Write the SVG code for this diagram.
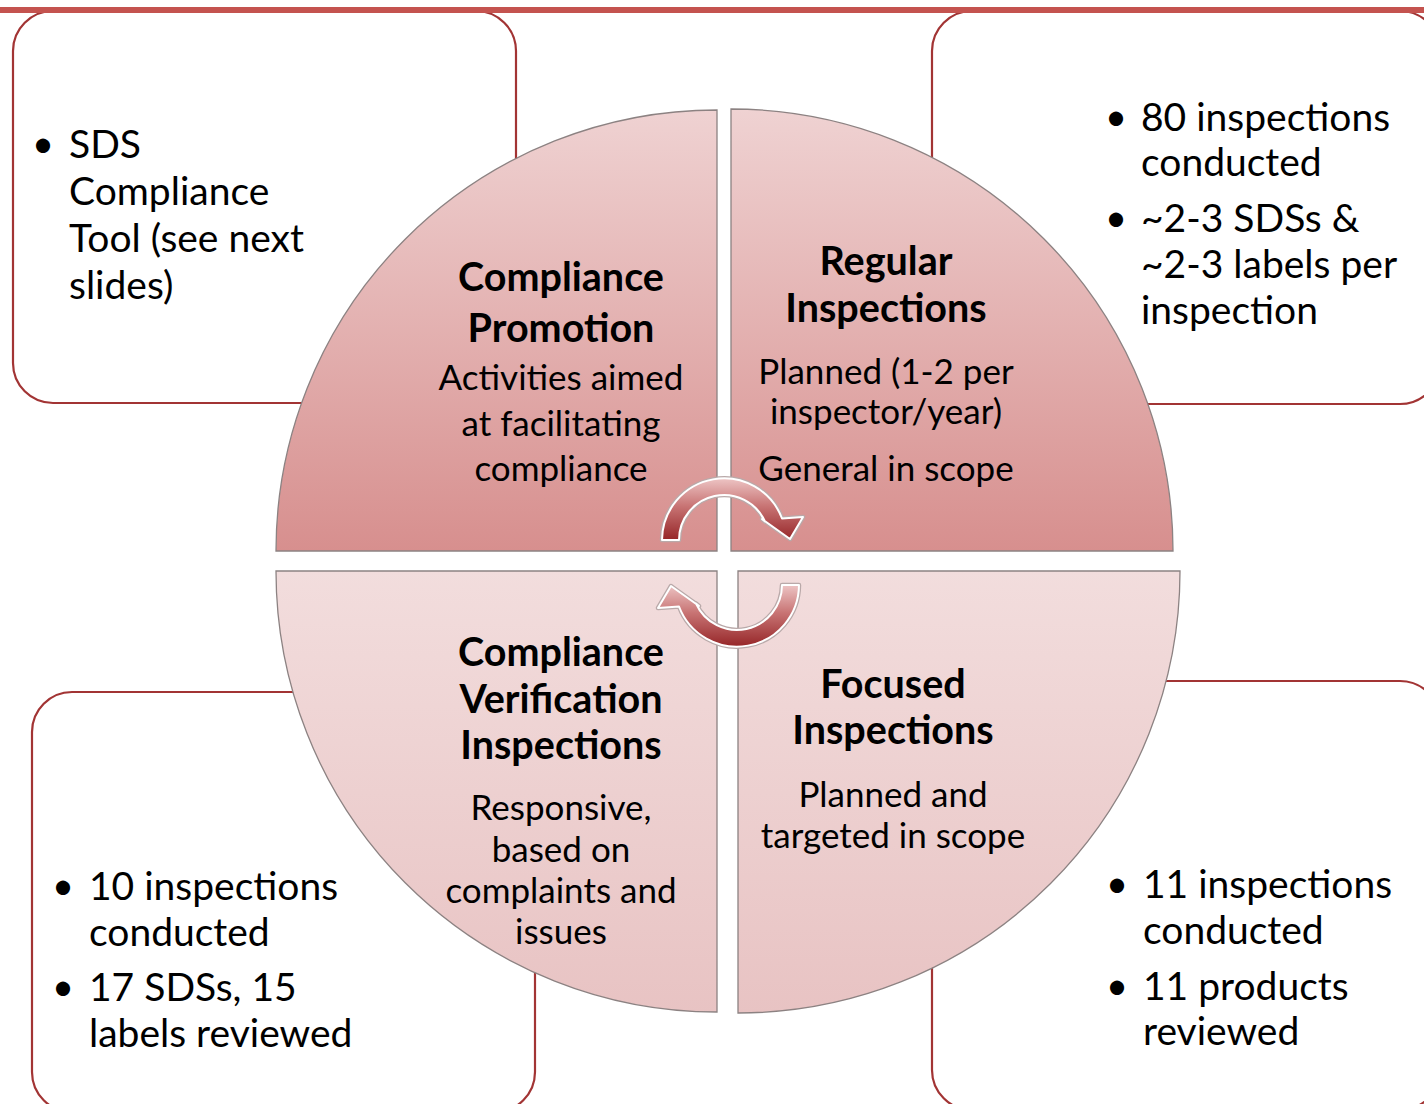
<svg xmlns="http://www.w3.org/2000/svg" width="1424" height="1104" viewBox="0 0 1424 1104">
  <style>
    .box { fill: #ffffff; stroke: #a23434; stroke-width: 2.2; }
    .quad { stroke: #8c8282; stroke-width: 1.3; }
    .txt { font-family: Lato, "Open Sans", "Liberation Sans", sans-serif; fill: #000000; }
    .h { font-size: 39.5px; font-weight: 700; text-anchor: middle; }
    .t { font-size: 35px; text-anchor: middle; }
    .b { font-size: 39px; }
    .dot { font-size: 38px; text-anchor: middle; }
    .arrow-halo { fill: none; stroke: #b9a9a9; stroke-width: 4.5; stroke-linejoin: round; }
    .arrow { fill: url(#arrowFill); stroke: #ffffff; stroke-width: 2; stroke-linejoin: round; }
  </style>
  <defs>
    <linearGradient id="topFill" gradientUnits="userSpaceOnUse" x1="0" y1="110" x2="0" y2="551">
      <stop offset="0" stop-color="#efd2d2"/>
      <stop offset="1" stop-color="#d78f8e"/>
    </linearGradient>
    <linearGradient id="bottomFill" gradientUnits="userSpaceOnUse" x1="0" y1="571" x2="0" y2="1013">
      <stop offset="0" stop-color="#f2dddd"/>
      <stop offset="1" stop-color="#e8c3c3"/>
    </linearGradient>
    <linearGradient id="arrowFill" x1="0" y1="0" x2="0" y2="1">
      <stop offset="0" stop-color="#edc4c4"/>
      <stop offset="0.45" stop-color="#c87474"/>
      <stop offset="1" stop-color="#962628"/>
    </linearGradient>
    <!-- curved arrow running clockwise over the top -->
    <path id="arcArrowTop" d="M -62 0 A 62 62 0 0 1 58 -21.5 L 79 -23 L 66 -1 L 38 -21 L 41 -18.5 A 45 45 0 0 0 -45 0 Z"/>
    <!-- same arrow turned half a turn -->
    <path id="arcArrowBottom" d="M 62 0 A 62 62 0 0 1 -58 21.5 L -79 23 L -66 1 L -38 21 L -41 18.5 A 45 45 0 0 0 45 0 Z"/>
  </defs>

  <rect width="1424" height="1104" fill="#ffffff"/>

  <!-- callout boxes -->
  <g id="box-promotion-notes">
    <rect class="box" x="13" y="11" width="503" height="392" rx="40"/>
  </g>
  <g id="box-regular-notes">
    <rect class="box" x="932" y="11" width="508" height="393" rx="40"/>
  </g>
  <g id="box-verification-notes">
    <rect class="box" x="32" y="692" width="503" height="420" rx="40"/>
  </g>
  <g id="box-focused-notes">
    <rect class="box" x="932" y="681" width="508" height="429" rx="40"/>
  </g>

  <!-- header rule -->
  <rect x="0" y="7" width="1424" height="6" fill="#c4534f"/>

  <!-- quadrants -->
  <g id="quad-promotion">
    <path class="quad" fill="url(#topFill)" d="M717 551 H276 A441 441 0 0 1 717 110 Z"/>
  </g>
  <g id="quad-regular">
    <path class="quad" fill="url(#topFill)" d="M731 551 V109 A442 442 0 0 1 1173 551 Z"/>
  </g>
  <g id="quad-verification">
    <path class="quad" fill="url(#bottomFill)" d="M717 571 V1012 A441 441 0 0 1 276 571 Z"/>
  </g>
  <g id="quad-focused">
    <path class="quad" fill="url(#bottomFill)" d="M738 571 H1180 A442 442 0 0 1 738 1013 Z"/>
  </g>

  <!-- cycle arrows -->
  <g id="connectors">
    <g transform="translate(724 540)">
      <use href="#arcArrowTop" class="arrow-halo"/>
      <use href="#arcArrowTop" class="arrow"/>
    </g>
    <g transform="translate(737 585)">
      <use href="#arcArrowBottom" class="arrow-halo"/>
      <use href="#arcArrowBottom" class="arrow"/>
    </g>
  </g>

  <!-- quadrant labels -->
  <g id="label-promotion" class="txt">
    <text class="h" x="561" y="291">Compliance</text>
    <text class="h" x="561" y="342">Promotion</text>
    <text class="t" x="561" y="390">Activities aimed</text>
    <text class="t" x="561" y="436">at facilitating</text>
    <text class="t" x="561" y="481">compliance</text>
  </g>
  <g id="label-regular" class="txt">
    <text class="h" x="886" y="275">Regular</text>
    <text class="h" x="886" y="322">Inspections</text>
    <text class="t" x="886" y="384">Planned (1-2 per</text>
    <text class="t" x="886" y="424">inspector/year)</text>
    <text class="t" x="886" y="481">General in scope</text>
  </g>
  <g id="label-verification" class="txt">
    <text class="h" x="561" y="666">Compliance</text>
    <text class="h" x="561" y="713">Verification</text>
    <text class="h" x="561" y="759">Inspections</text>
    <text class="t" x="561" y="820">Responsive,</text>
    <text class="t" x="561" y="862">based on</text>
    <text class="t" x="561" y="903">complaints and</text>
    <text class="t" x="561" y="944">issues</text>
  </g>
  <g id="label-focused" class="txt">
    <text class="h" x="893" y="698">Focused</text>
    <text class="h" x="893" y="744">Inspections</text>
    <text class="t" x="893" y="807">Planned and</text>
    <text class="t" x="893" y="848">targeted in scope</text>
  </g>

  <!-- box notes -->
  <g id="notes-promotion" class="txt">
    <text class="dot" x="43" y="157">•</text>
    <text class="b" x="69" y="158">SDS</text>
    <text class="b" x="69" y="205">Compliance</text>
    <text class="b" x="69" y="252">Tool (see next</text>
    <text class="b" x="69" y="299">slides)</text>
  </g>
  <g id="notes-regular" class="txt">
    <text class="dot" x="1116" y="130">•</text>
    <text class="b" x="1141" y="131">80 inspections</text>
    <text class="b" x="1141" y="176">conducted</text>
    <text class="dot" x="1116" y="231">•</text>
    <text class="b" x="1141" y="232">~2-3 SDSs &amp;</text>
    <text class="b" x="1141" y="278">~2-3 labels per</text>
    <text class="b" x="1141" y="324">inspection</text>
  </g>
  <g id="notes-verification" class="txt">
    <text class="dot" x="63" y="899">•</text>
    <text class="b" x="89" y="900">10 inspections</text>
    <text class="b" x="89" y="946">conducted</text>
    <text class="dot" x="63" y="1000">•</text>
    <text class="b" x="89" y="1001">17 SDSs, 15</text>
    <text class="b" x="89" y="1047">labels reviewed</text>
  </g>
  <g id="notes-focused" class="txt">
    <text class="dot" x="1117" y="897">•</text>
    <text class="b" x="1143" y="898">11 inspections</text>
    <text class="b" x="1143" y="944">conducted</text>
    <text class="dot" x="1117" y="999">•</text>
    <text class="b" x="1143" y="1000">11 products</text>
    <text class="b" x="1143" y="1045">reviewed</text>
  </g>
</svg>
